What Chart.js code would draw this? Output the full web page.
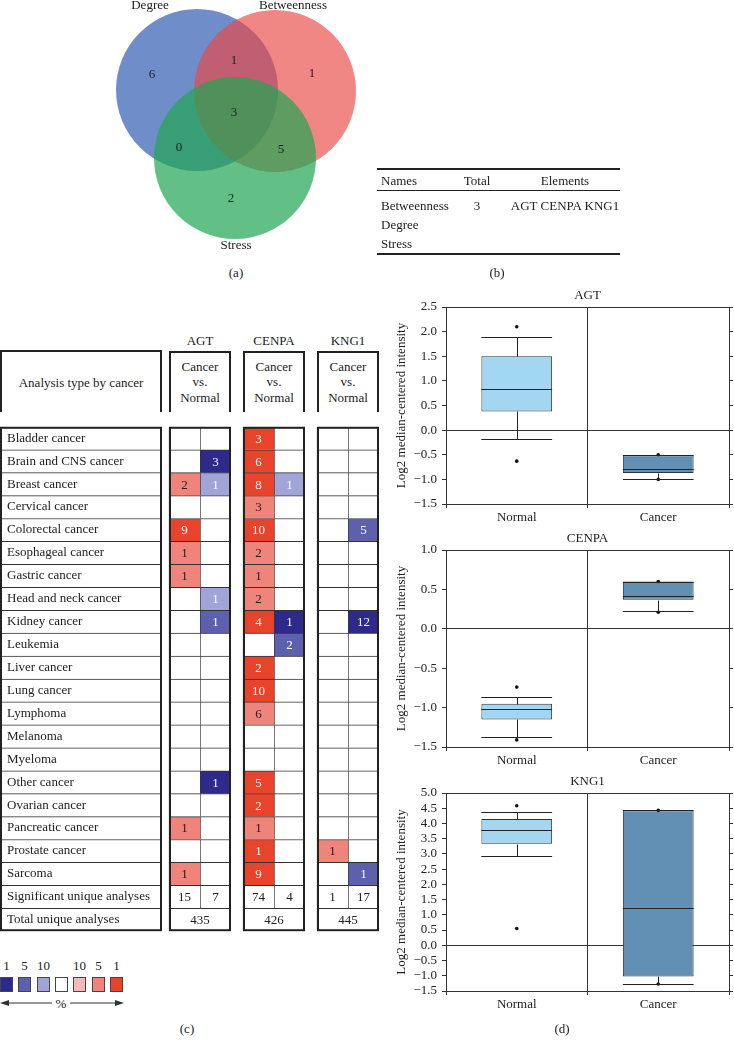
<!DOCTYPE html>
<html>
<head>
<meta charset="utf-8">
<script src="https://cdn.jsdelivr.net/npm/chart.js@4.4.1/dist/chart.umd.min.js"></script>
<style>
  body { margin: 0; background: #fff; }
  #page { position: relative; width: 734px; height: 1047px; overflow: hidden;
          font-family: "Liberation Serif", "DejaVu Serif", serif; font-size: 13px; color: #222; }
  #page canvas { position: absolute; }
  .c { position: absolute; transform: translate(-50%, -50%); white-space: nowrap; line-height: 1; }
  .l { position: absolute; transform: translateY(-50%); white-space: nowrap; line-height: 1; }
  .rule { position: absolute; height: 0; }
  .hbox { position: absolute; box-sizing: border-box; border: 2px solid #222; border-bottom: none; }
  .sq { position: absolute; box-sizing: border-box; width: 13px; height: 15px; border: 1px solid #444; }
</style>
</head>
<body>
<div id="page">
  <!-- (a) -->
  <canvas id="venn" width="300" height="260" style="left:80px;top:0px"></canvas>
  <div class="c" style="left:236px;top:272px">(a)</div>

  <!-- (b) -->
  <div class="rule" style="left:377px;top:168px;width:243px;border-top:2px solid #222"></div>
  <div class="l" style="left:381px;top:180px">Names</div>
  <div class="c" style="left:477px;top:180px">Total</div>
  <div class="c" style="left:565px;top:180px">Elements</div>
  <div class="rule" style="left:377px;top:190px;width:243px;border-top:1px solid #222"></div>
  <div class="l" style="left:381px;top:205px">Betweenness</div>
  <div class="l" style="left:381px;top:224px">Degree</div>
  <div class="l" style="left:381px;top:243px">Stress</div>
  <div class="c" style="left:477px;top:205px">3</div>
  <div class="c" style="left:565px;top:205px">AGT CENPA KNG1</div>
  <div class="rule" style="left:377px;top:253px;width:243px;border-top:2px solid #222"></div>
  <div class="c" style="left:497px;top:272px">(b)</div>

  <!-- (c) header -->
  <div class="hbox" style="left:0px;top:350px;width:162px;height:62px"></div>
  <div class="c" style="left:81px;top:382px">Analysis type by cancer</div>
  <div id="geneHeads"></div>
  <canvas id="heat" width="381" height="534" style="left:0px;top:412px"></canvas>
  <div id="legend"></div>
  <svg style="position:absolute;left:0px;top:997px" width="124" height="12">
    <line x1="4" y1="6" x2="52" y2="6" stroke="#333" stroke-width="1"/>
    <line x1="70" y1="6" x2="120" y2="6" stroke="#333" stroke-width="1"/>
    <polygon points="0,6 9,3 9,9" fill="#333"/>
    <polygon points="124,6 115,3 115,9" fill="#333"/>
  </svg>
  <div class="c" style="left:61px;top:1003px">%</div>
  <div class="c" style="left:187px;top:1028px">(c)</div>

  <!-- (d) -->
  <canvas id="boxAGT" width="364" height="244" style="left:370px;top:285px"></canvas>
  <canvas id="boxCENPA" width="364" height="244" style="left:370px;top:528px"></canvas>
  <canvas id="boxKNG1" width="364" height="245" style="left:370px;top:771px"></canvas>
  <div class="c" style="left:562px;top:1028px">(d)</div>
</div>

<script>
const SERIF = '"Liberation Serif", "DejaVu Serif", serif';
Chart.defaults.font.family = SERIF;
Chart.defaults.font.size = 13;
Chart.defaults.color = '#222';
Chart.defaults.animation = false;

// ---------- (a) Venn data ----------
const vennSets = ['Degree', 'Betweenness', 'Stress'];
// Degree only, Degree&Betweenness, Betweenness only, all three, Degree&Stress, Betweenness&Stress, Stress only
const vennCounts = [6, 1, 1, 3, 0, 5, 2];

// venn layout (diagram units)
const vennCentres = [{x: 117, y: 90}, {x: 195, y: 91}, {x: 155, y: 158}];
const vennRadius = 81;
const vennFills = ['rgba(75,114,188,0.8)', 'rgba(234,71,66,0.65)', 'rgba(31,165,82,0.7)'];
const vennCountPos = [[72, 75], [154, 61], [232, 74], [154, 113], [99, 148], [201, 150], [151, 199]];
const vennNamePos = [[70, 6], [213, 6], [156, 246]];

// ---------- (c) Oncomine data ----------
const cancerTypes = ['Bladder cancer', 'Brain and CNS cancer', 'Breast cancer', 'Cervical cancer',
  'Colorectal cancer', 'Esophageal cancer', 'Gastric cancer', 'Head and neck cancer', 'Kidney cancer',
  'Leukemia', 'Liver cancer', 'Lung cancer', 'Lymphoma', 'Melanoma', 'Myeloma', 'Other cancer',
  'Ovarian cancer', 'Pancreatic cancer', 'Prostate cancer', 'Sarcoma'];
const summaryRows = ['Significant unique analyses', 'Total unique analyses'];
const heatGenes = ['AGT', 'CENPA', 'KNG1'];
const _ = null;
// counts of analyses (up = red, down = blue) and their gene rank percentile (1, 5, 10 %)
const agtUp        = [_, _, 2, _, 9, 1, 1, _, _, _, _, _, _, _, _, _, _, 1, _, 1];
const agtUpRank    = [_, _, 5, _, 1, 5, 5, _, _, _, _, _, _, _, _, _, _, 5, _, 5];
const agtDown      = [_, 3, 1, _, _, _, _, 1, 1, _, _, _, _, _, _, 1, _, _, _, _];
const agtDownRank  = [_, 1, 10, _, _, _, _, 10, 5, _, _, _, _, _, _, 1, _, _, _, _];
const cenpaUp      = [3, 6, 8, 3, 10, 2, 1, 2, 4, _, 2, 10, 6, _, _, 5, 2, 1, 1, 9];
const cenpaUpRank  = [1, 1, 1, 5, 1, 5, 5, 5, 1, _, 1, 1, 5, _, _, 1, 1, 5, 1, 1];
const cenpaDown    = [_, _, 1, _, _, _, _, _, 1, 2, _, _, _, _, _, _, _, _, _, _];
const cenpaDownRank= [_, _, 10, _, _, _, _, _, 1, 5, _, _, _, _, _, _, _, _, _, _];
const kng1Up       = [_, _, _, _, _, _, _, _, _, _, _, _, _, _, _, _, _, _, 1, _];
const kng1UpRank   = [_, _, _, _, _, _, _, _, _, _, _, _, _, _, _, _, _, _, 5, _];
const kng1Down     = [_, _, _, _, 5, _, _, _, 12, _, _, _, _, _, _, _, _, _, _, 1];
const kng1DownRank = [_, _, _, _, 5, _, _, _, 1, _, _, _, _, _, _, _, _, _, _, 5];
const significantUp = [15, 74, 1];
const significantDown = [7, 4, 17];
const totalAnalyses = [435, 426, 445];
const legendRanks = [1, 5, 10];

// heatmap layout (canvas units) and colours
const heatLabelCol = [0, 162];
const heatBlocks = [[169, 200, 231], [243, 274, 305], [317, 348, 379]];
const upColors = {1: '#e8432b', 5: '#f0837a', 10: '#f5bab6'};
const downColors = {1: '#2e2a8c', 5: '#5c60ad', 10: '#a1a4d6'};

// ---------- (d) box plot data ----------
const boxGroups = ['Normal', 'Cancer'];
const agtQ1 = [0.38, -0.87], agtMedian = [0.84, -0.78], agtQ3 = [1.50, -0.51];
const agtLow = [-0.19, -1.00], agtHigh = [1.90, -0.51];
const agtDots = [[2.10, -0.63], [-0.50, -1.00]];
const agtRange = [-1.5, 2.5];
const cenpaQ1 = [-1.15, 0.37], cenpaMedian = [-1.02, 0.41], cenpaQ3 = [-0.95, 0.60];
const cenpaLow = [-1.37, 0.22], cenpaHigh = [-0.86, 0.60];
const cenpaDots = [[-0.74, -1.41], [0.60, 0.21]];
const cenpaRange = [-1.5, 1.0];
const kng1Q1 = [3.33, -1.02], kng1Median = [3.80, 1.23], kng1Q3 = [4.15, 4.43];
const kng1Low = [2.92, -1.27], kng1High = [4.37, 4.43];
const kng1Dots = [[4.58, 0.55], [4.43, -1.27]];
const kng1Range = [-1.5, 5.0];
const boxColors = ['#a3d7f1', '#6190b4'];

// ================= (a) =================
const vennText = {
  id: 'vennText',
  afterDatasetsDraw(chart) {
    const {ctx, scales: {x, y}} = chart;
    ctx.save();
    ctx.font = '13px ' + SERIF;
    ctx.fillStyle = '#222';
    ctx.textAlign = 'center';
    ctx.textBaseline = 'middle';
    vennCounts.forEach((n, i) => {
      ctx.fillText(String(n), x.getPixelForValue(vennCountPos[i][0]), y.getPixelForValue(vennCountPos[i][1]));
    });
    vennSets.forEach((name, i) => {
      ctx.fillText(name, x.getPixelForValue(vennNamePos[i][0]), y.getPixelForValue(vennNamePos[i][1]));
    });
    ctx.restore();
  }
};

const vennR = ctx => {
  const s = ctx.chart.scales.x;
  return s.getPixelForValue(vennRadius) - s.getPixelForValue(0);
};

new Chart(document.getElementById('venn'), {
  type: 'scatter',
  data: {
    datasets: vennSets.map((name, i) => ({
      label: name,
      data: [vennCentres[i]],
      order: 3 - i,
      backgroundColor: vennFills[i],
      borderWidth: 0,
      pointRadius: vennR,
      pointHoverRadius: vennR
    }))
  },
  options: {
    responsive: false,
    devicePixelRatio: 1,
    layout: {padding: 0},
    plugins: {legend: {display: false}, tooltip: {enabled: false}},
    scales: {
      x: {type: 'linear', min: 0, max: 300, display: false},
      y: {type: 'linear', min: 0, max: 260, reverse: true, display: false}
    }
  },
  plugins: [vennText]
});

// ================= (c) =================
// gene headers
let heads = '';
heatGenes.forEach((g, k) => {
  const b = heatBlocks[k], cx = b[1];
  heads += '<div class="c" style="left:' + cx + 'px;top:340px">' + g + '</div>';
  heads += '<div class="hbox" style="left:' + b[0] + 'px;top:351px;width:' + (b[2] - b[0]) + 'px;height:61px"></div>';
  heads += '<div class="c" style="left:' + cx + 'px;top:366px">Cancer</div>';
  heads += '<div class="c" style="left:' + cx + 'px;top:381px">vs.</div>';
  heads += '<div class="c" style="left:' + cx + 'px;top:397px">Normal</div>';
});
document.getElementById('geneHeads').innerHTML = heads;

// legend
const legendCols = [downColors[1], downColors[5], downColors[10], '#ffffff', upColors[10], upColors[5], upColors[1]];
const legendNums = [legendRanks[0], legendRanks[1], legendRanks[2], null, legendRanks[2], legendRanks[1], legendRanks[0]];
const legendX = [0, 18, 37, 55, 73, 92, 110];
let leg = '';
legendCols.forEach((c, i) => {
  leg += '<div class="sq" style="left:' + legendX[i] + 'px;top:977px;background:' + c + '"></div>';
  if (legendNums[i] !== null) {
    leg += '<div class="c" style="left:' + (legendX[i] + 6.5) + 'px;top:965px">' + legendNums[i] + '</div>';
  }
});
document.getElementById('legend').innerHTML = leg;

const heatRows = cancerTypes.concat(summaryRows);
const upCounts = [agtUp, cenpaUp, kng1Up], upRanks = [agtUpRank, cenpaUpRank, kng1UpRank];
const downCounts = [agtDown, cenpaDown, kng1Down], downRanks = [agtDownRank, cenpaDownRank, kng1DownRank];
const nC = cancerTypes.length;

const cellBase = {
  borderColor: '#333',
  borderWidth: {top: 1, left: 1, right: 0, bottom: 0},
  borderSkipped: false,
  grouped: false,
  barPercentage: 1,
  categoryPercentage: 1
};

const heatSets = [Object.assign({}, cellBase, {
  label: 'names',
  data: heatRows.map(() => heatLabelCol),
  backgroundColor: '#ffffff'
})];

heatGenes.forEach((g, k) => {
  const b = heatBlocks[k];
  heatSets.push(Object.assign({}, cellBase, {
    label: g + ' up',
    data: heatRows.map((r, i) => i === nC + 1 ? [b[0], b[2]] : [b[0], b[1]]),
    backgroundColor: heatRows.map((r, i) => i < nC && upRanks[k][i] ? upColors[upRanks[k][i]] : '#ffffff'),
    cellText: heatRows.map((r, i) => i < nC ? upCounts[k][i] : (i === nC ? significantUp[k] : totalAnalyses[k])),
    textColors: heatRows.map((r, i) => i < nC && upRanks[k][i] === 1 ? '#ffffff' : '#222')
  }));
  heatSets.push(Object.assign({}, cellBase, {
    label: g + ' down',
    data: heatRows.map((r, i) => i === nC + 1 ? null : [b[1], b[2]]),
    backgroundColor: heatRows.map((r, i) => i < nC && downRanks[k][i] ? downColors[downRanks[k][i]] : '#ffffff'),
    cellText: heatRows.map((r, i) => i < nC ? downCounts[k][i] : (i === nC ? significantDown[k] : null)),
    textColors: heatRows.map((r, i) => i < nC && downRanks[k][i] ? '#ffffff' : '#222')
  }));
});

const cellText = {
  id: 'cellText',
  afterDatasetsDraw(chart) {
    const ctx = chart.ctx;
    ctx.save();
    ctx.font = '13px ' + SERIF;
    ctx.textAlign = 'center';
    ctx.textBaseline = 'middle';
    chart.data.datasets.forEach((ds, di) => {
      if (!ds.cellText) return;
      chart.getDatasetMeta(di).data.forEach((bar, i) => {
        const t = ds.cellText[i];
        if (t === null || t === undefined) return;
        const p = bar.getProps(['x', 'base', 'y'], true);
        ctx.fillStyle = ds.textColors[i];
        ctx.fillText(String(t), (p.x + p.base) / 2, p.y + 1);
      });
    });
    ctx.restore();
  }
};

const blockFrames = {
  id: 'blockFrames',
  afterDatasetsDraw(chart) {
    const {ctx, chartArea, scales: {x}} = chart;
    ctx.save();
    ctx.strokeStyle = '#222';
    ctx.lineWidth = 2;
    [heatLabelCol].concat(heatBlocks.map(b => [b[0], b[2]])).forEach(e => {
      const x0 = x.getPixelForValue(e[0]), x1 = x.getPixelForValue(e[1]);
      ctx.strokeRect(x0 + 1, chartArea.top + 1, x1 - x0 - 2, chartArea.bottom - chartArea.top - 2);
    });
    ctx.restore();
  }
};

new Chart(document.getElementById('heat'), {
  type: 'bar',
  data: {labels: heatRows, datasets: heatSets},
  options: {
    indexAxis: 'y',
    responsive: false,
    devicePixelRatio: 1,
    layout: {padding: 0},
    plugins: {legend: {display: false}, tooltip: {enabled: false}},
    scales: {
      x: {type: 'linear', min: 0, max: 381, display: false},
      y: {
        type: 'category', offset: true,
        grid: {display: false}, border: {display: false},
        ticks: {mirror: true, z: 1, padding: 7, autoSkip: false, color: '#222', font: {size: 13}},
        afterFit: s => { s.width = 0; }
      }
    }
  },
  plugins: [cellText, blockFrames]
});

// ================= (d) =================
const whiskers = {
  id: 'whiskers',
  afterDatasetsDraw(chart) {
    const ds = chart.data.datasets[0];
    const meta = chart.getDatasetMeta(0);
    const y = chart.scales.y;
    const ctx = chart.ctx;
    const py = v => Math.round(y.getPixelForValue(v)) + 0.5;
    const line = (x0, y0, x1, y1) => { ctx.beginPath(); ctx.moveTo(x0, y0); ctx.lineTo(x1, y1); ctx.stroke(); };
    ctx.save();
    ctx.strokeStyle = '#222';
    ctx.lineWidth = 1;
    meta.data.forEach((bar, i) => {
      const p = bar.getProps(['x', 'width'], true);
      const l = p.x - p.width / 2, r = p.x + p.width / 2;
      const xc = Math.round(p.x) + 0.5;
      line(l, py(ds.medians[i]), r, py(ds.medians[i]));
      line(xc, py(ds.data[i][1]), xc, py(ds.whiskerHigh[i]));
      line(xc, py(ds.data[i][0]), xc, py(ds.whiskerLow[i]));
      line(l, py(ds.whiskerHigh[i]), r, py(ds.whiskerHigh[i]));
      line(l, py(ds.whiskerLow[i]), r, py(ds.whiskerLow[i]));
    });
    ctx.restore();
  }
};

function fmtTick(v) {
  return (v < 0 ? '\u2212' : '') + Math.abs(v).toFixed(1);
}

function boxChart(id, gene, q1, median, q3, low, high, dots, range) {
  const dotData = [];
  dots.forEach((vals, g) => vals.forEach(v => dotData.push({x: boxGroups[g], y: v})));
  const yMax = range[1];
  return new Chart(document.getElementById(id), {
    type: 'bar',
    data: {
      labels: boxGroups,
      datasets: [{
        label: gene,
        data: boxGroups.map((g, i) => [q1[i], q3[i]]),
        medians: median,
        whiskerLow: low,
        whiskerHigh: high,
        backgroundColor: boxColors,
        borderColor: '#333',
        borderWidth: 1,
        borderSkipped: false,
        barPercentage: 0.5,
        categoryPercentage: 1,
        order: 1
      }, {
        type: 'line',
        label: gene + ' points',
        data: dotData,
        showLine: false,
        pointRadius: 1.8,
        pointBackgroundColor: '#111',
        pointBorderWidth: 0,
        order: 0
      }]
    },
    options: {
      responsive: false,
      devicePixelRatio: 1,
      layout: {padding: 0},
      plugins: {
        legend: {display: false},
        tooltip: {enabled: false},
        title: {display: true, text: gene, fullSize: false, color: '#222',
                font: {size: 13, weight: 'normal'}, padding: {top: 3, bottom: 3.4}}
      },
      scales: {
        x: {
          type: 'category', offset: true,
          grid: {offset: true, color: '#333', tickColor: '#333', tickLength: 4},
          border: {color: '#333'},
          ticks: {padding: 2, color: '#222', font: {size: 13}},
          afterFit: s => { s.height = 25; }
        },
        y: {
          type: 'linear', min: range[0], max: range[1],
          ticks: {stepSize: 0.5, autoSkip: false, padding: 5, color: '#222', font: {size: 13}, callback: fmtTick},
          grid: {
            color: c => (c.tick && (c.tick.value === 0 || c.tick.value === yMax)) ? '#333' : 'rgba(0,0,0,0)',
            tickColor: '#333', tickLength: 4
          },
          border: {color: '#333'},
          title: {display: true, text: 'Log2 median-centered intensity', color: '#222',
                  font: {size: 13}, padding: {top: 24, bottom: 0}},
          afterFit: s => { s.width = 76; }
        },
        y2: {
          type: 'linear', position: 'right', min: range[0], max: range[1],
          ticks: {display: false, stepSize: 0.5, autoSkip: false},
          grid: {drawOnChartArea: false, color: '#333', tickColor: '#333', tickLength: 4},
          border: {color: '#333'},
          afterFit: s => { s.width = 5; }
        }
      }
    },
    plugins: [whiskers]
  });
}

boxChart('boxAGT', 'AGT', agtQ1, agtMedian, agtQ3, agtLow, agtHigh, agtDots, agtRange);
boxChart('boxCENPA', 'CENPA', cenpaQ1, cenpaMedian, cenpaQ3, cenpaLow, cenpaHigh, cenpaDots, cenpaRange);
boxChart('boxKNG1', 'KNG1', kng1Q1, kng1Median, kng1Q3, kng1Low, kng1High, kng1Dots, kng1Range);
</script>
</body>
</html>
